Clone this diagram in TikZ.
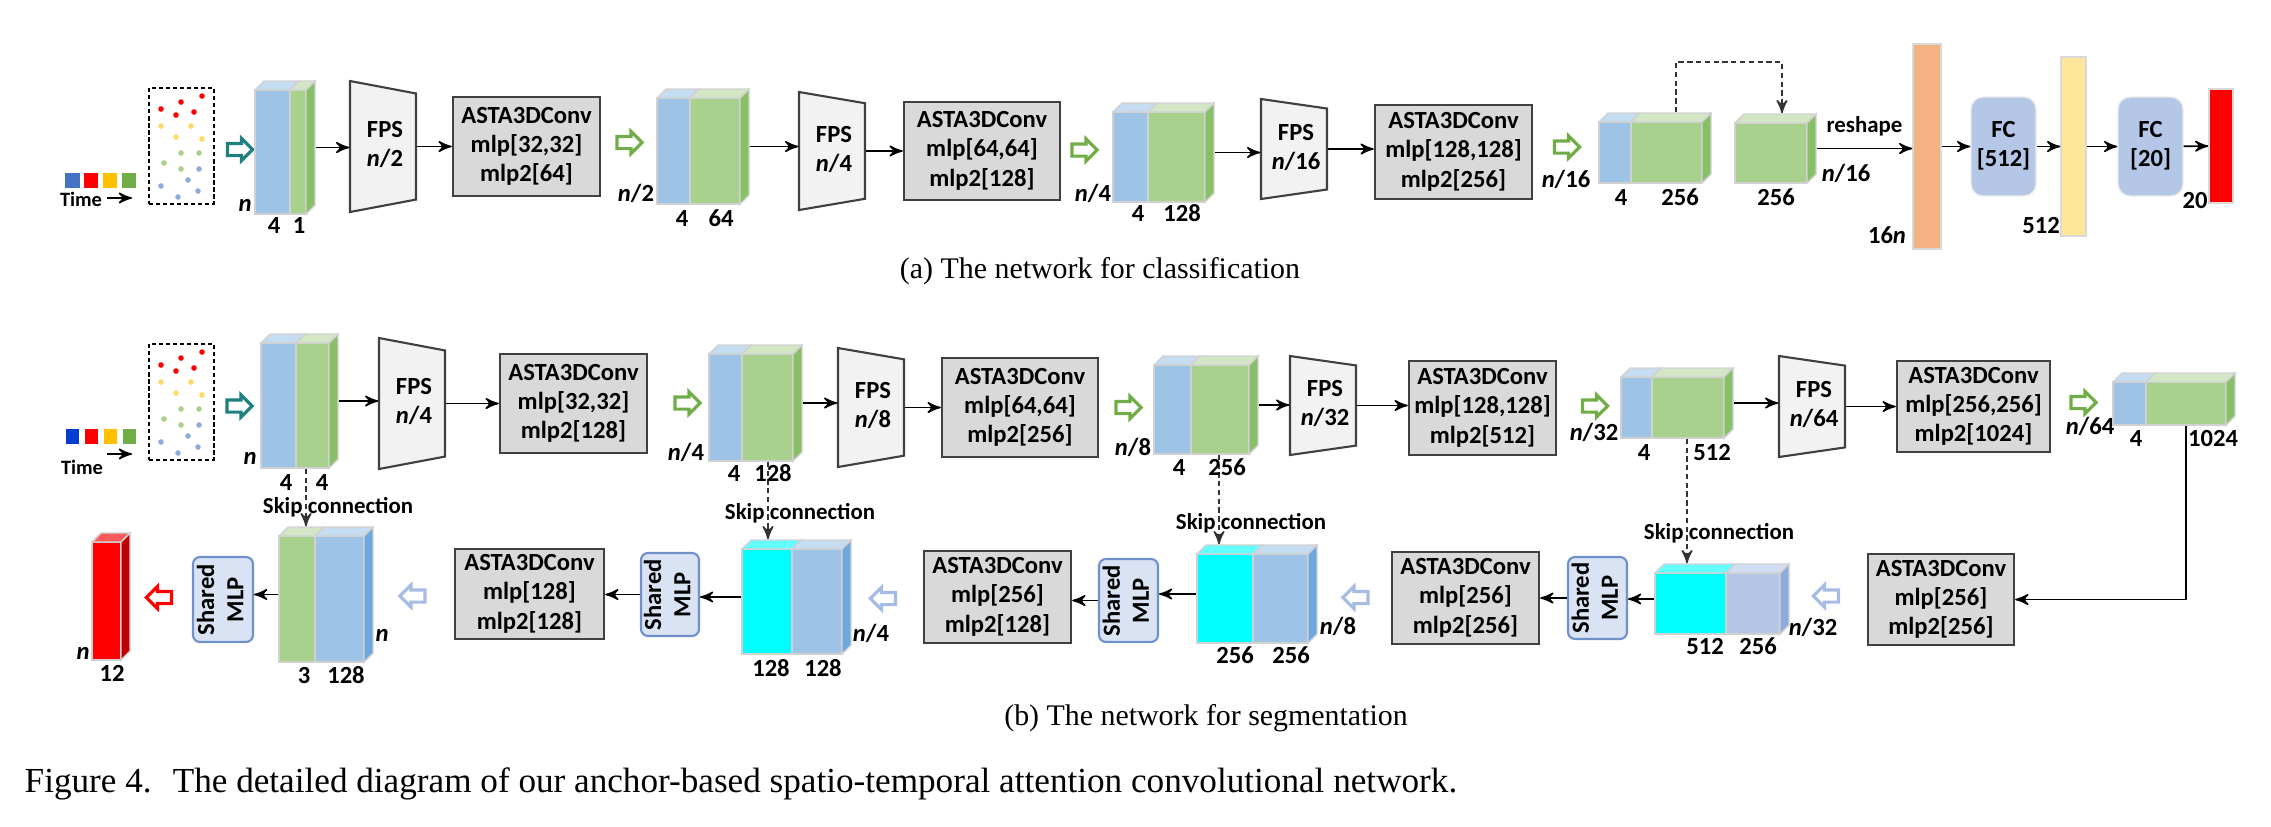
\documentclass[tikz,border=0pt]{standalone}
\usepackage{fontspec}
\setmainfont{Liberation Serif}
\newfontfamily\dfont{Carlito}
\usetikzlibrary{arrows,positioning,fit,shapes.arrows}

\definecolor{blu}{HTML}{9DC3E6}
\definecolor{blutop}{HTML}{C5DCF1}
\definecolor{bluside}{HTML}{6FA8DC}
\definecolor{grn}{HTML}{A9D18E}
\definecolor{grntop}{HTML}{D3E6C5}
\definecolor{grnside}{HTML}{88C068}
\definecolor{cyn}{HTML}{00FFFF}
\definecolor{cyntop}{HTML}{66FFFF}
\definecolor{cynside}{HTML}{00CCCC}
\definecolor{per}{HTML}{B4C7E7}
\definecolor{pertop}{HTML}{D4DEF2}
\definecolor{perside}{HTML}{8FAADC}
\definecolor{rd}{HTML}{FF0000}
\definecolor{rdtop}{HTML}{FF5A5A}
\definecolor{rdside}{HTML}{C00000}
\definecolor{orng}{HTML}{F4B183}
\definecolor{ylw}{HTML}{FFE699}
\definecolor{fcblue}{HTML}{B4C7E7}
\definecolor{mlpblue}{HTML}{DAE3F3}
\definecolor{mlpedge}{HTML}{7090CC}
\definecolor{tealarr}{HTML}{1F8080}
\definecolor{grnarr}{HTML}{70AD47}
\definecolor{bluarr}{HTML}{A6BCE4}
\definecolor{dotyl}{HTML}{FFD966}
\definecolor{dotbl}{HTML}{8FAADC}
\definecolor{keybl}{HTML}{4472C4}
\definecolor{keyyl}{HTML}{FFC000}
\definecolor{keygr}{HTML}{70AD47}

\newcommand{\dep}{9}
\newcommand{\rows}[1]{\begin{tabular}{@{}c@{}}#1\end{tabular}}
\newcommand{\blk}[8]{%
  \path[face,fill=#7] (#2,#3) rectangle ++(#4,#6);
  \path[face,fill=#8] (#2+#4,#3) rectangle ++(#5,#6);
  \path[face,fill=#7top] (#2,#3) -- ++(\dep,-\dep) -- ++(#4,0) -- ++(-\dep,\dep) -- cycle;
  \path[face,fill=#8top] (#2+#4,#3) -- ++(\dep,-\dep) -- ++(#5,0) -- ++(-\dep,\dep) -- cycle;
  \path[face,fill=#8side] (#2+#4+#5,#3) -- ++(\dep,-\dep) -- ++(0,#6) -- ++(-\dep,\dep) -- cycle;
  \node[inner sep=0pt,fit={(#2,#3-\dep) (#2+#4+#5+\dep,#3+#6)}] (#1) {};
}
\newcommand{\fps}[5]{%
  \draw[fpsst] (#2,#3) -- ++(66,{0.095*#4}) -- ++(0,{0.81*#4}) -- (#2,#3+#4) -- cycle;
  \node[inner sep=0pt,fit={(#2,#3) (#2+66,#3+#4)}] (#1) {};
  \node (#1t) at ([xshift=0.02cm]#1.center) {\rows{FPS\\#5}};
}
\newcommand{\conv}[6]{%
  \node[conv,inner sep=0pt,fit={(#2,#3) (#4,#5)}] (#1) {};
  \node (#1t) at (#1) {\rows{ASTA3DConv\\#6}};
}
\newcommand{\cloud}[3]{%
  \node[pts,inner sep=0pt,fit={(#2,#3) (#2+65,#3+116)}] (#1) {};
  \fill[rd] (#2+53,#3+8) circle (2.8);
  \fill[rd] (#2+32,#3+14) circle (2.8);
  \fill[rd] (#2+12,#3+21) circle (2.8);
  \fill[rd] (#2+27,#3+27) circle (2.8);
  \fill[rd] (#2+45,#3+24) circle (2.8);
  \fill[dotyl] (#2+12,#3+38) circle (2.8);
  \fill[dotyl] (#2+42,#3+38) circle (2.8);
  \fill[dotyl] (#2+27,#3+49) circle (2.8);
  \fill[dotyl] (#2+53,#3+51) circle (2.8);
  \fill[grn] (#2+32,#3+65) circle (2.8);
  \fill[grn] (#2+50,#3+65) circle (2.8);
  \fill[grn] (#2+15,#3+75) circle (2.8);
  \fill[grn] (#2+32,#3+81) circle (2.8);
  \fill[dotbl] (#2+50,#3+81) circle (2.8);
  \fill[dotbl] (#2+39,#3+92) circle (2.8);
  \fill[dotbl] (#2+12,#3+98) circle (2.8);
  \fill[dotbl] (#2+49,#3+103) circle (2.8);
  \fill[dotbl] (#2+29,#3+109) circle (2.8);
}

\begin{document}
\begin{tikzpicture}[x=0.01cm,y=-0.01cm,>=stealth',
  font=\dfont\bfseries\fontsize{7}{8.3}\selectfont,
  face/.style={draw=black!18,line width=0.4pt},
  conv/.style={draw=black!75,fill=black!15,line width=0.7pt},
  fpsst/.style={draw=black!75,fill=black!5,line width=0.6pt},
  fcst/.style={rounded corners=0.12cm,fill=fcblue,draw=black!8,line width=0.4pt},
  smlp/.style={rounded corners=0.07cm,fill=mlpblue,draw=mlpedge,line width=0.6pt},
  bar/.style={draw=black!15,line width=0.4pt},
  pts/.style={draw,line width=0.5pt,dash pattern=on 1.2pt off 0.8pt},
  con/.style={->,line width=0.45pt},
  skip/.style={->,line width=0.45pt,draw=black!80,dash pattern=on 1.5pt off 1pt},
  hol/.style={single arrow,draw=#1,fill=white,line width=0.9pt,inner sep=0.045cm,
    minimum height=0.25cm,minimum width=0.21cm,single arrow head extend=0.05cm},
  holl/.style={hol=#1,shape border rotate=180},
  small/.style={font=\dfont\bfseries\fontsize{6.5}{8}\selectfont},
  tiny/.style={font=\dfont\bfseries\fontsize{5.8}{7}\selectfont},
  subcap/.style={font=\rmfamily\mdseries\fontsize{8.5}{10}\selectfont,inner sep=0pt}]
\useasboundingbox (0,0) rectangle (2271,826);

%(a) classification
\fill[keybl] (65,173) rectangle (80,188);
\fill[rd] (84,173) rectangle (98,188);
\fill[keyyl] (103,173) rectangle (117,188);
\fill[keygr] (122,173) rectangle (136,188);
\node[tiny] (atime) at (81,199) {Time};
\coordinate (atimeA) at (107,198);
\coordinate (atimeB) at (132,198);
\draw[con] (atimeA) -- (atimeB);
\cloud{apts}{149}{88}
\node[hol=tealarr] (ah0) at (237,149.5) {};

\blk{ablk1}{255}{90}{35}{16}{124}{blu}{grn}
\fps{afps1}{350}{81}{131}{\textit{n}/2}
\conv{aconv1}{453}{97}{600}{196}{mlp[32,32]\\mlp2[64]}
\node[hol=grnarr] (ah1) at (626.5,142.5) {};
\blk{ablk2}{657}{98}{33}{50}{106}{blu}{grn}
\fps{afps2}{799}{92}{118}{\textit{n}/4}
\conv{aconv2}{904}{102}{1060}{200}{mlp[64,64]\\mlp2[128]}
\node[hol=grnarr] (ah2) at (1081.5,150) {};
\blk{ablk3}{1113}{112}{35}{57}{90}{blu}{grn}
\fps{afps3}{1261}{99}{100}{\textit{n}/16}
\conv{aconv3}{1375}{105}{1532}{199}{mlp[128,128]\\mlp2[256]}
\node[hol=grnarr] (ah3) at (1564,147) {};
\blk{ablk4}{1599}{122}{32}{71}{61}{blu}{grn}
\blk{ablk5}{1735}{123}{0}{72}{60}{grn}{grn}
\node[bar,fill=orng,inner sep=0pt,fit={(1913,44) (1941,249)}] (aflat) {};
\node[fcst,inner sep=0pt,fit={(1971,97) (2036,196)}] (afc1) {};
\node (afc1t) at (afc1) {\rows{FC\\{[512]}}};
\node[bar,fill=ylw,inner sep=0pt,fit={(2061,57) (2086,236)}] (avec) {};
\node[fcst,inner sep=0pt,fit={(2118,97) (2183,196)}] (afc2) {};
\node (afc2t) at (afc2) {\rows{FC\\{[20]}}};
\node[bar,fill=rd,inner sep=0pt,fit={(2209,89) (2233,203)}] (aout) {};

\draw[con] (ablk1.east) -- (ablk1.east -| afps1.west);
\draw[con] (afps1.east) -- (afps1.east -| aconv1.west);
\draw[con] (ablk2.east) -- (ablk2.east -| afps2.west);
\draw[con] (afps2.east) -- (afps2.east -| aconv2.west);
\draw[con] (ablk3.east) -- (ablk3.east -| afps3.west);
\draw[con] (afps3.east) -- (afps3.east -| aconv3.west);
\coordinate (askA) at (1676,62);
\coordinate (askB) at (1782,62);
\draw[skip] (ablk4.north -| askA) -- (askA) -- (askB) -- (ablk5.north -| askB);
\draw[con] (ablk5.east) to node[above,small] (rsh) {reshape} (ablk5.east -| aflat.west);
\draw[con] (aflat) -- (afc1);
\draw[con] (afc1) -- (avec);
\draw[con] (avec) -- (afc2);
\draw[con] (afc2) -- (aout);

\node (a1n) at (245,205) {\textit{n}};
\node (a1c1) at (274,225) {4};
\node (a1c2) at (299,225) {1};
\node (a2n) at (636,193) {\textit{n}/2};
\node (a2c1) at (682,218) {4};
\node (a2c2) at (721,218) {64};
\node (a3n) at (1093,193) {\textit{n}/4};
\node (a3c1) at (1138,213) {4};
\node (a3c2) at (1182,213) {128};
\node (a4n) at (1566,179) {\textit{n}/16};
\node (a4c1) at (1621,197) {4};
\node (a4c2) at (1680,197) {256};
\node (a5c) at (1776,197) {256};
\node (a5n) at (1846,173) {\textit{n}/16};
\node (aflatl) at (1887,235) {16\textit{n}};
\node (avecl) at (2041,225) {512};
\node (aoutl) at (2195,200) {20};
\node[subcap] (capa) at (1100,271) {(a) The network for classification};

%(b) segmentation
\fill[blue!70!cyan!80!black] (66,429) rectangle (79,444);
\fill[rd] (85,429) rectangle (98,444);
\fill[keyyl] (104,429) rectangle (117,444);
\fill[keygr] (123,429) rectangle (136,444);
\node[tiny] (btime) at (82,467) {Time};
\coordinate (btimeA) at (107,454);
\coordinate (btimeB) at (132,454);
\draw[con] (btimeA) -- (btimeB);
\cloud{bpts}{149}{344}
\node[hol=tealarr] (bh0) at (236.5,406) {};

\blk{bblk1}{261}{343}{35}{33}{125}{blu}{grn}
\fps{bfps1}{379}{338}{131}{\textit{n}/4}
\conv{bconv1}{500}{354}{647}{453}{mlp[32,32]\\mlp2[128]}
\node[hol=grnarr] (bh1) at (684.5,403) {};
\blk{bblk2}{709}{354}{33}{51}{107}{blu}{grn}
\fps{bfps2}{838}{348}{119}{\textit{n}/8}
\conv{bconv2}{942}{358}{1098}{457}{mlp[64,64]\\mlp2[256]}
\node[hol=grnarr] (bh2) at (1125.5,407.5) {};
\blk{bblk3}{1154}{365}{37}{58}{89}{blu}{grn}
\fps{bfps3}{1290}{356}{99}{\textit{n}/32}
\conv{bconv3}{1409}{361}{1556}{455}{mlp[128,128]\\mlp2[512]}
\node[hol=grnarr] (bh3) at (1592,406) {};
\blk{bblk4}{1621}{377}{31}{72}{61}{blu}{grn}
\fps{bfps4}{1779}{356}{101}{\textit{n}/64}
\conv{bconv4}{1897}{361}{2050}{452}{mlp[256,256]\\mlp2[1024]}
\node[hol=grnarr] (bh4) at (2080.5,402.5) {};
\blk{bblk5}{2113}{382}{33}{80}{43}{blu}{grn}

\conv{bup4}{1868}{554}{2014}{645}{mlp[256]\\mlp2[256]}
\node[holl=bluarr] (bh5) at (1829,596) {};
\blk{bcat4}{1655}{573}{71}{54}{61}{cyn}{per}
\node[smlp,inner sep=0pt,fit={(1568,557) (1627,639)}] (bmlp4) {};
\conv{bup3}{1392}{552}{1539}{644}{mlp[256]\\mlp2[256]}
\node[holl=bluarr] (bh6) at (1358.5,597.5) {};
\blk{bcat3}{1197}{554}{56}{55}{89}{cyn}{blu}
\node[smlp,inner sep=0pt,fit={(1099,559) (1158,642)}] (bmlp3) {};
\conv{bup2}{924}{551}{1071}{643}{mlp[256]\\mlp2[128]}
\node[holl=bluarr] (bh7) at (886,598.5) {};
\blk{bcat2}{742}{549}{50}{50}{105}{cyn}{blu}
\node[smlp,inner sep=0pt,fit={(641,553) (699,636)}] (bmlp2) {};
\conv{bup1}{455}{549}{604}{639}{mlp[128]\\mlp2[128]}
\node[holl=bluarr] (bh8) at (415.5,596) {};
\blk{bcat1}{279}{536}{36}{49}{126}{grn}{blu}
\node[smlp,inner sep=0pt,fit={(193,557) (253,642)}] (bmlp1) {};
\node[holl=rd] (bh9) at (162,597.5) {};
\blk{bout}{92}{542}{0}{29}{118}{rd}{rd}

\node[rotate=90,inner sep=0pt] (bmlp4t) at (bmlp4) {\rows{Shared\\MLP}};
\node[rotate=90,inner sep=0pt] (bmlp3t) at (bmlp3) {\rows{Shared\\MLP}};
\node[rotate=90,inner sep=0pt] (bmlp2t) at (bmlp2) {\rows{Shared\\MLP}};
\node[rotate=90,inner sep=0pt] (bmlp1t) at (bmlp1) {\rows{Shared\\MLP}};

\draw[con] (bblk1.east) -- (bblk1.east -| bfps1.west);
\draw[con] (bfps1.east) -- (bfps1.east -| bconv1.west);
\draw[con] (bblk2.east) -- (bblk2.east -| bfps2.west);
\draw[con] (bfps2.east) -- (bfps2.east -| bconv2.west);
\draw[con] (bblk3.east) -- (bblk3.east -| bfps3.west);
\draw[con] (bfps3.east) -- (bfps3.east -| bconv3.west);
\draw[con] (bblk4.east) -- (bblk4.east -| bfps4.west);
\draw[con] (bfps4.east) -- (bfps4.east -| bconv4.west);
\coordinate (bdn) at (2186,0);
\draw[con] (bblk5.south -| bdn) |- (bup4.east);
\draw[con] (bcat4.west) -- (bcat4.west -| bmlp4.east);
\draw[con] (bmlp4.west) -- (bmlp4.west -| bup3.east);
\draw[con] (bcat3.west) -- (bcat3.west -| bmlp3.east);
\draw[con] (bmlp3.west) -- (bmlp3.west -| bup2.east);
\draw[con] (bcat2.west) -- (bcat2.west -| bmlp2.east);
\draw[con] (bmlp2.west) -- (bmlp2.west -| bup1.east);
\draw[con] (bcat1.west) -- (bcat1.west -| bmlp1.east);

\coordinate (bsk1) at (306,0);
\coordinate (bsk2) at (768,0);
\coordinate (bsk3) at (1219,0);
\coordinate (bsk4) at (1687,0);
\draw[skip] (bblk1.south -| bsk1) -- (bcat1.north -| bsk1);
\draw[skip] (bblk2.south -| bsk2) -- (bcat2.north -| bsk2);
\draw[skip] (bblk3.south -| bsk3) -- (bcat3.north -| bsk3);
\draw[skip] (bblk4.south -| bsk4) -- (bcat4.north -| bsk4);
\node[small] (bsk1t) at (338,507) {Skip connection};
\node[small] (bsk2t) at (800,513) {Skip connection};
\node[small] (bsk3t) at (1251,523) {Skip connection};
\node[small] (bsk4t) at (1719,533) {Skip connection};

\node (b1n) at (250,458) {\textit{n}};
\node (b1c1) at (286,482) {4};
\node (b1c2) at (322,482) {4};
\node (b2n) at (686,452) {\textit{n}/4};
\node (b2c1) at (734,473) {4};
\node (b2c2) at (773,473) {128};
\node (b3n) at (1133,447) {\textit{n}/8};
\node (b3c1) at (1179,467) {4};
\node (b3c2) at (1227,467) {256};
\node (b4n) at (1594,432) {\textit{n}/32};
\node (b4c1) at (1644,452) {4};
\node (b4c2) at (1712,452) {512};
\node (b5n) at (2090,426) {\textit{n}/64};
\node (b5c1) at (2136,438) {4};
\node (b5c2) at (2213,438) {1024};
\node (c4c1) at (1705,646) {512};
\node (c4c2) at (1758,646) {256};
\node (c4n) at (1813,627) {\textit{n}/32};
\node (c3c1) at (1235,655) {256};
\node (c3c2) at (1291,655) {256};
\node (c3n) at (1338,626) {\textit{n}/8};
\node (c2c1) at (771,668) {128};
\node (c2c2) at (823,668) {128};
\node (c2n) at (871,633) {\textit{n}/4};
\node (c1c1) at (304,675) {3};
\node (c1c2) at (346,675) {128};
\node (c1n) at (382,635) {\textit{n}};
\node (outn) at (83,653) {\textit{n}};
\node (outc) at (112,673) {12};
\node[subcap] (capb) at (1206,718) {(b) The network for segmentation};

\node[subcap,font=\rmfamily\mdseries\fontsize{10}{12}\selectfont,anchor=west] (capfig) at (24,784)
  {Figure 4.\hspace{0.6em}The detailed diagram of our anchor-based spatio-temporal attention convolutional network.};
\end{tikzpicture}
\end{document}
